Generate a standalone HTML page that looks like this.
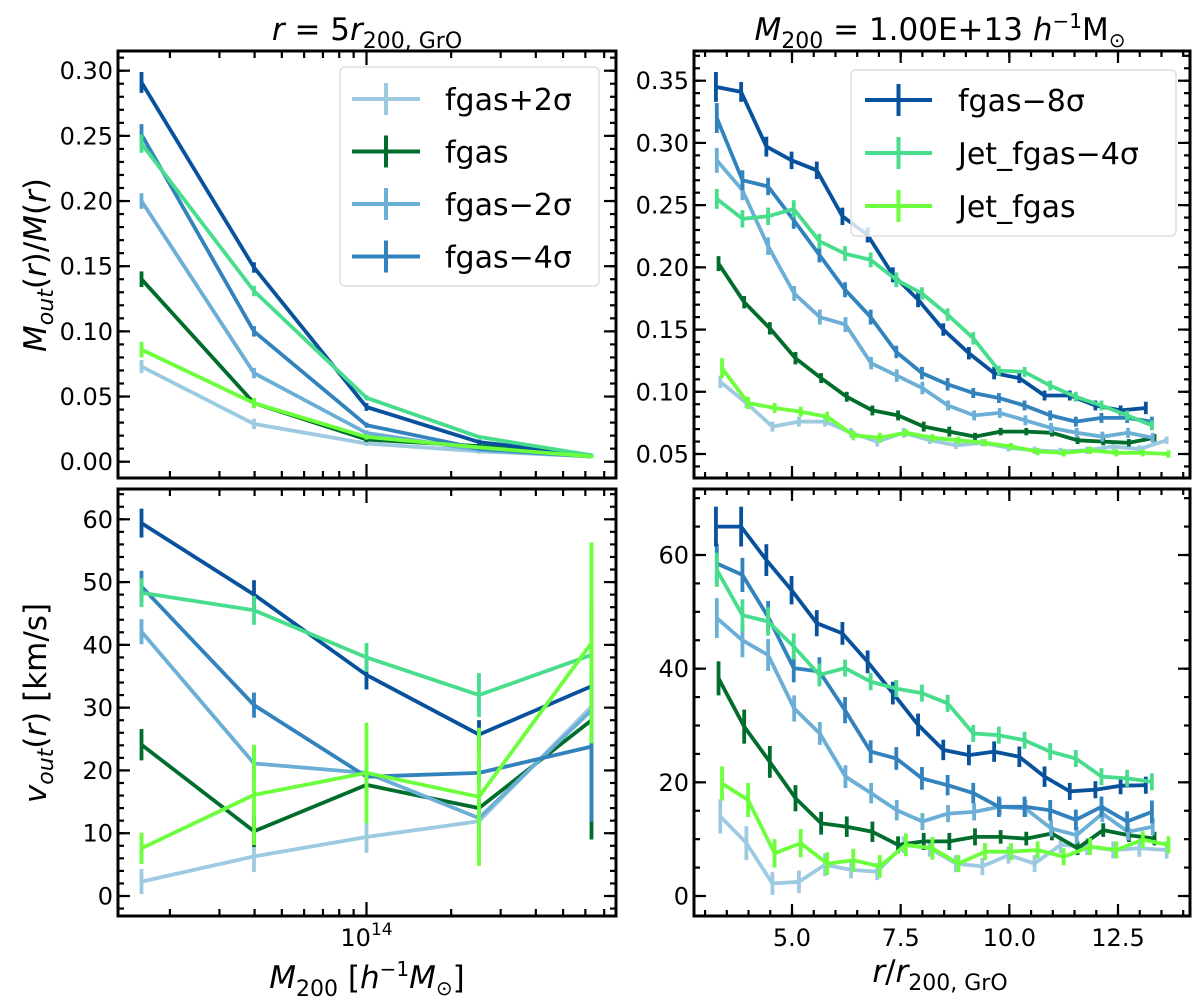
<!DOCTYPE html>
<html><head><meta charset="utf-8"><style>
html,body{margin:0;padding:0;background:#fff;}
svg{display:block;font-family:"DejaVu Sans","Liberation Sans",sans-serif;}
</style></head><body>
<svg id="fig" width="1200" height="1007" viewBox="0 0 1200 1007" xmlns="http://www.w3.org/2000/svg"></svg>
<script>
// ---- data ----
const massLog = [13.2, 13.6, 14.0, 14.4, 14.8];
const seriesNames = ["fgas+2σ","fgas","fgas−2σ","fgas−4σ","fgas−8σ","Jet_fgas−4σ","Jet_fgas"];
const seriesColors = ["#9ecae1","#006d2c","#6baed6","#3182bd","#08519c","#48dd8c","#6cff3c"];

const tlVals = [
 [0.073,0.029,0.014,0.008,0.004],
 [0.140,0.045,0.017,0.012,0.004],
 [0.200,0.068,0.022,0.009,0.004],
 [0.251,0.100,0.028,0.010,0.004],
 [0.291,0.149,0.042,0.015,0.005],
 [0.244,0.131,0.049,0.019,0.005],
 [0.086,0.045,0.019,0.011,0.004]];
const tlErr = [
 [0.005,0.004,0.002,0.002,0.001],
 [0.006,0.003,0.002,0.001,0.001],
 [0.006,0.004,0.002,0.001,0.001],
 [0.008,0.004,0.002,0.001,0.001],
 [0.008,0.004,0.003,0.002,0.001],
 [0.007,0.004,0.002,0.001,0.001],
 [0.006,0.004,0.002,0.001,0.001]];
const blVals = [
 [2.3,6.3,9.4,11.9,30.2],
 [24.1,10.3,17.7,14.0,28.0],
 [42.1,21.1,19.6,12.4,29.6],
 [49.3,30.4,19.0,19.6,23.8],
 [59.4,48.0,35.2,25.7,33.4],
 [48.3,45.5,38.0,32.0,38.4],
 [7.6,16.1,19.6,15.8,40.3]];
const blErr = [
 [2.0,2.5,2.5,4.5,4],
 [2.5,2.5,1.5,1.5,19],
 [2.0,2.5,1.5,1.5,4],
 [2.5,2.0,1.5,1.5,12],
 [2.3,2.3,2.3,2.3,4],
 [2.3,2.3,2.3,3.5,3],
 [2.5,8,8,11,16]];

const rBins = [
 [3.35,3.95,4.55,5.16,5.76,6.36,6.96,7.57,8.17,8.77,9.38,9.98,10.58,11.18,11.79,12.39,12.99,13.62],
 [3.31,3.90,4.49,5.08,5.67,6.26,6.85,7.44,8.03,8.62,9.21,9.80,10.39,10.98,11.57,12.16,12.75,13.34],
 [3.27,3.86,4.45,5.05,5.64,6.23,6.82,7.41,8.00,8.59,9.19,9.78,10.37,10.96,11.55,12.14,12.73,13.30],
 [3.27,3.86,4.45,5.04,5.63,6.22,6.81,7.40,7.99,8.58,9.17,9.76,10.35,10.94,11.53,12.12,12.71,13.28],
 [3.25,3.83,4.41,4.99,5.57,6.16,6.74,7.32,7.90,8.48,9.07,9.65,10.23,10.81,11.39,11.98,12.56,13.14],
 [3.27,3.86,4.45,5.04,5.63,6.22,6.81,7.40,7.99,8.58,9.17,9.76,10.35,10.94,11.53,12.12,12.71,13.28],
 [3.39,3.99,4.60,5.20,5.81,6.41,7.02,7.62,8.23,8.83,9.44,10.04,10.65,11.25,11.86,12.46,13.07,13.66]];
const trVals = [
 [0.108,0.091,0.072,0.076,0.076,0.067,0.060,0.067,0.061,0.057,0.059,0.055,0.053,0.052,0.053,0.056,0.054,0.061],
 [0.203,0.172,0.151,0.127,0.111,0.096,0.085,0.081,0.072,0.068,0.064,0.068,0.068,0.067,0.061,0.060,0.059,0.063],
 [0.286,0.262,0.217,0.179,0.160,0.154,0.123,0.113,0.103,0.089,0.081,0.083,0.077,0.071,0.067,0.064,0.067,0.063],
 [0.320,0.270,0.265,0.238,0.210,0.182,0.160,0.132,0.115,0.106,0.099,0.095,0.089,0.081,0.076,0.079,0.079,0.076],
 [0.345,0.341,0.297,0.286,0.278,0.241,0.226,0.194,0.174,0.150,0.131,0.115,0.111,0.097,0.097,0.089,0.085,0.087],
 [0.255,0.239,0.241,0.247,0.221,0.211,0.206,0.190,0.179,0.162,0.143,0.117,0.116,0.105,0.096,0.089,0.081,0.073],
 [0.119,0.091,0.087,0.084,0.080,0.065,0.063,0.067,0.063,0.061,0.059,0.056,0.052,0.051,0.053,0.051,0.051,0.050]];
const trErr = [
 [0.005,0.004,0.004,0.004,0.004,0.004,0.004,0.004,0.003,0.003,0.003,0.003,0.003,0.003,0.003,0.003,0.003,0.003],
 [0.006,0.005,0.005,0.005,0.004,0.004,0.004,0.004,0.004,0.004,0.003,0.003,0.003,0.003,0.003,0.003,0.003,0.003],
 [0.010,0.008,0.007,0.006,0.006,0.006,0.005,0.005,0.005,0.004,0.004,0.004,0.004,0.004,0.004,0.004,0.004,0.004],
 [0.012,0.008,0.007,0.007,0.006,0.006,0.006,0.005,0.005,0.005,0.004,0.004,0.004,0.004,0.004,0.004,0.004,0.004],
 [0.012,0.008,0.008,0.007,0.007,0.007,0.006,0.006,0.006,0.005,0.005,0.005,0.004,0.004,0.004,0.004,0.004,0.005],
 [0.008,0.007,0.007,0.007,0.006,0.006,0.006,0.006,0.005,0.005,0.005,0.004,0.004,0.004,0.004,0.004,0.004,0.004],
 [0.008,0.005,0.004,0.004,0.004,0.004,0.004,0.003,0.003,0.003,0.003,0.003,0.003,0.003,0.003,0.003,0.003,0.003]];
const brVals = [
 [14.0,9.3,2.2,2.5,5.5,4.6,4.3,9.0,8.4,5.7,5.2,7.2,5.7,9.0,8.7,8.1,8.4,8.1],
 [38.3,29.8,23.6,17.2,12.8,12.2,11.3,9.0,9.6,9.6,10.4,10.4,10.1,11.0,8.4,11.6,10.7,10.1],
 [48.9,45.0,42.4,33.0,28.6,21.0,18.1,15.1,13.1,14.5,14.8,15.7,15.4,11.9,10.7,14.5,11.3,12.2],
 [58.5,56.5,49.1,40.1,39.5,32.7,25.4,24.2,20.7,19.5,18.1,15.7,15.7,15.1,13.4,15.7,13.1,14.8],
 [65.0,65.0,59.1,53.8,48.0,46.2,41.2,35.7,30.1,25.7,24.8,25.4,24.5,21.0,18.4,18.7,19.4,19.5],
 [57.4,49.4,48.3,43.9,38.9,40.1,37.7,36.5,35.7,33.9,28.6,28.3,27.4,25.4,24.2,21.0,20.7,20.1],
 [19.8,16.9,7.5,9.3,5.7,6.3,5.2,9.0,8.4,5.7,7.8,7.8,8.1,6.9,8.7,8.1,9.9,9.0]];
const brErr = [
 [3.0,3.0,2.0,2.0,2.0,1.5,1.5,1.5,1.5,1.5,1.5,1.5,1.5,1.5,1.5,1.5,1.5,1.5],
 [3.0,3.0,2.8,2.3,2.0,1.8,1.8,1.5,1.5,1.5,1.5,1.2,1.2,1.2,1.2,1.2,1.2,1.2],
 [3.5,3.0,2.8,2.3,2.0,2.0,1.8,1.8,1.5,1.5,1.5,1.5,1.5,1.5,1.5,1.5,1.5,1.5],
 [3.5,3.0,2.8,2.5,2.5,2.3,2.0,2.0,2.0,1.8,1.8,1.8,1.8,1.8,1.8,1.8,1.8,2.0],
 [3.5,3.5,2.8,2.5,2.3,2.0,2.0,2.0,2.0,1.8,1.8,1.8,1.8,1.8,1.5,1.5,1.5,1.5],
 [3.0,2.8,2.5,2.3,2.0,1.5,1.5,1.5,1.5,1.5,1.5,1.5,1.5,1.5,1.5,1.5,1.5,1.5],
 [3.0,3.0,2.5,2.5,2.0,2.0,2.0,2.0,2.0,1.5,1.5,1.5,1.5,1.5,1.5,1.5,1.5,1.5]];

const tlTicks = ["0.00","0.05","0.10","0.15","0.20","0.25","0.30"];
const blTicks = ["0","10","20","30","40","50","60"];
const trTicks = ["0.05","0.10","0.15","0.20","0.25","0.30","0.35"];
const brTicks = ["0","20","40","60"];
const rTicks = ["5.0","7.5","10.0","12.5"];

// ---- drawing ----
const NS="http://www.w3.org/2000/svg";
const svg=document.getElementById('fig');
function mk(tag,attrs,parent){const e=document.createElementNS(NS,tag);for(const k in attrs)e.setAttribute(k,attrs[k]);(parent||svg).appendChild(e);return e;}
function lin(d0,d1,p0,p1){return v=>p0+(v-d0)*(p1-p0)/(d1-d0);}

const L={x0:118,x1:616}, R={x0:694,x1:1190}, T={y0:51,y1:478}, B={y0:489,y1:916};
const panels=[
 {name:'mass-fraction-vs-mass',box:[L,T],sx:lin(14,14.4,366.5,479),sy:lin(0,0.30,461.7,70.7),xs:massLog,vals:tlVals,err:tlErr},
 {name:'velocity-vs-mass',box:[L,B],sx:lin(14,14.4,366.5,479),sy:lin(0,60,896,519.3),xs:massLog,vals:blVals,err:blErr},
 {name:'mass-fraction-vs-radius',box:[R,T],sx:lin(5,12.5,792,1118),sy:lin(0.05,0.35,454,80.7),xs:null,vals:trVals,err:trErr},
 {name:'velocity-vs-radius',box:[R,B],sx:lin(5,12.5,792,1118),sy:lin(0,60,896,555),xs:null,vals:brVals,err:brErr}];

const FS=24;
function ticksY(g,p,vals,len,labels){
 const [bx,by]=p.box;
 vals.forEach((v,i)=>{const y=p.sy(v); if(y<by.y0-0.5||y>by.y1+0.5)return;
  const t1=mk('line',{x1:bx.x0,x2:bx.x0+len,y1:y,y2:y,stroke:'#000','stroke-width':2.2},g);
  
  mk('line',{x1:bx.x1,x2:bx.x1-len,y1:y,y2:y,stroke:'#000','stroke-width':2.2},g);
  if(labels){const t=mk('text',{x:bx.x0-5,y:y+8.5,'text-anchor':'end','font-size':FS},g);t.textContent=labels[i];
   }
 });
}
function ticksX(g,p,vals,len,labels,showLab){
 const [bx,by]=p.box;
 vals.forEach((v,i)=>{const x=p.sx(v); if(x<bx.x0-0.5||x>bx.x1+0.5)return;
  const t1=mk('line',{x1:x,x2:x,y1:by.y1,y2:by.y1-len,stroke:'#000','stroke-width':2.2},g);
  
  mk('line',{x1:x,x2:x,y1:by.y0,y2:by.y0+len,stroke:'#000','stroke-width':2.2},g);
  if(labels&&showLab){const t=mk('text',{x:x,y:by.y1+30,'text-anchor':'middle','font-size':FS},g);t.innerHTML=labels[i];
   }
 });
}
function range(a,b,s){const r=[];for(let v=a;v<=b+1e-9;v+=s)r.push(Math.round(v*1e6)/1e6);return r;}

panels.forEach((p,pi)=>{
 const g=mk('g',{});
 
 
 const [bx,by]=p.box;
 const cid='clip'+pi;
 const cp=mk('clipPath',{id:cid},g); mk('rect',{x:bx.x0,y:by.y0,width:bx.x1-bx.x0,height:by.y1-by.y0},cp);
 const dg=mk('g',{'clip-path':`url(#${cid})`},g);
 p.vals.forEach((vals,si)=>{
  const xs=p.xs||rBins[si];
  const col=seriesColors[si];
  const sg=mk('g',{},dg);
  
  
  const pts=vals.map((v,i)=>p.sx(xs[i]).toFixed(1)+','+p.sy(v).toFixed(1)).join(' ');
  const pl=mk('polyline',{points:pts,fill:'none',stroke:col,'stroke-width':3.8,'stroke-linejoin':'round'},sg);
  
  
  vals.forEach((v,i)=>{const x=p.sx(xs[i]);const e=p.err[si][i];
   const eb=mk('line',{x1:x,x2:x,y1:p.sy(v-e),y2:p.sy(v+e),stroke:col,'stroke-width':3.8},sg);
   
   
  });
 });
 const bottom=(by===B);
 if(pi===0){ticksY(g,p,range(0,0.30,0.05),12,tlTicks);ticksY(g,p,range(0,0.32,0.01),6,null);}
 if(pi===1){ticksY(g,p,range(0,60,10),12,blTicks);ticksY(g,p,range(-4,66,2),6,null);}
 if(pi===2){ticksY(g,p,range(0.05,0.35,0.05),12,trTicks);ticksY(g,p,range(0.03,0.37,0.01),6,null);}
 if(pi===3){ticksY(g,p,range(0,60,20),12,brTicks);ticksY(g,p,range(-5,70,5),6,null);}
 if(pi<2){
  ticksX(g,p,[14],14,['10<tspan dy="-11" font-size="17">14</tspan>'],bottom);
  const minors=[2,3,4,5,6,7,8,9].map(m=>13+Math.log10(m)).concat([2,3,4,5,6,7].map(m=>14+Math.log10(m)));
  ticksX(g,p,minors,7,null,false);
 } else {
  ticksX(g,p,[5,7.5,10,12.5],12,rTicks,bottom);
  ticksX(g,p,range(3,14,0.5),6,null,false);
 }
 const fr=mk('rect',{x:bx.x0,y:by.y0,width:bx.x1-bx.x0,height:by.y1-by.y0,fill:'none',stroke:'#000','stroke-width':3},g);
 
});

function legend(name,x,y,w,h,idx,rowY,lx0,lx1,tx){
 const g=mk('g',{});
 
 
 mk('rect',{x:x,y:y,width:w,height:h,rx:5,fill:'rgba(255,255,255,0.8)',stroke:'#dddddd','stroke-width':1.5},g);
 idx.forEach((si,k)=>{const yy=rowY+k*(idx.length===4?52.5:53);const col=seriesColors[si];
  const eg=mk('g',{},g);
  
  
  mk('line',{x1:lx0,x2:lx1,y1:yy,y2:yy,stroke:col,'stroke-width':4},eg);
  mk('line',{x1:(lx0+lx1)/2,x2:(lx0+lx1)/2,y1:yy-16,y2:yy+16,stroke:col,'stroke-width':4},eg);
  const t=mk('text',{x:tx,y:yy+11,'font-size':30},eg);t.textContent=seriesNames[si];
 });
}
legend('legend-left',340,67,259,219,[0,1,2,3],99,352,420,445);
legend('legend-right',851,70,325,166,[4,5,6],100,865,932,958);

function txt(name,html,attrs){const t=mk('text',attrs);t.innerHTML=html;return t;}
txt('left-title','<tspan font-style="italic">r</tspan> = 5<tspan font-style="italic">r</tspan><tspan dy="8" font-size="22">200, GrO</tspan>',{x:367,y:40,'text-anchor':'middle','font-size':31});
txt('right-title','<tspan font-style="italic">M</tspan><tspan dy="8" font-size="22">200</tspan><tspan dy="-8"> = 1.00E+13 </tspan><tspan font-style="italic">h</tspan><tspan dy="-12" font-size="20">−1</tspan><tspan dy="12">M</tspan><tspan dy="7" font-size="20">⊙</tspan>',{x:940,y:40,'text-anchor':'middle','font-size':31});
txt('top-y-axis-title','<tspan font-style="italic">M</tspan><tspan dy="7" font-size="22" font-style="italic">out</tspan><tspan dy="-7">(</tspan><tspan font-style="italic">r</tspan>)/<tspan font-style="italic">M</tspan>(<tspan font-style="italic">r</tspan>)',{x:0,y:0,'text-anchor':'middle','font-size':31,transform:'translate(46,265) rotate(-90)'});
txt('bottom-y-axis-title','<tspan font-style="italic">v</tspan><tspan dy="7" font-size="22" font-style="italic">out</tspan><tspan dy="-7">(</tspan><tspan font-style="italic">r</tspan>) [km/s]',{x:0,y:0,'text-anchor':'middle','font-size':31,transform:'translate(46,703) rotate(-90)'});
txt('left-x-axis-title','<tspan font-style="italic">M</tspan><tspan dy="8" font-size="22">200</tspan><tspan dy="-8"> [</tspan><tspan font-style="italic">h</tspan><tspan dy="-12" font-size="20">−1</tspan><tspan dy="12" font-style="italic">M</tspan><tspan dy="7" font-size="20">⊙</tspan><tspan dy="-7">]</tspan>',{x:367,y:988,'text-anchor':'middle','font-size':31});
txt('right-x-axis-title','<tspan font-style="italic">r</tspan>/<tspan font-style="italic">r</tspan><tspan dy="8" font-size="22">200, GrO</tspan>',{x:940,y:982,'text-anchor':'middle','font-size':31});
</script>
</body></html>
